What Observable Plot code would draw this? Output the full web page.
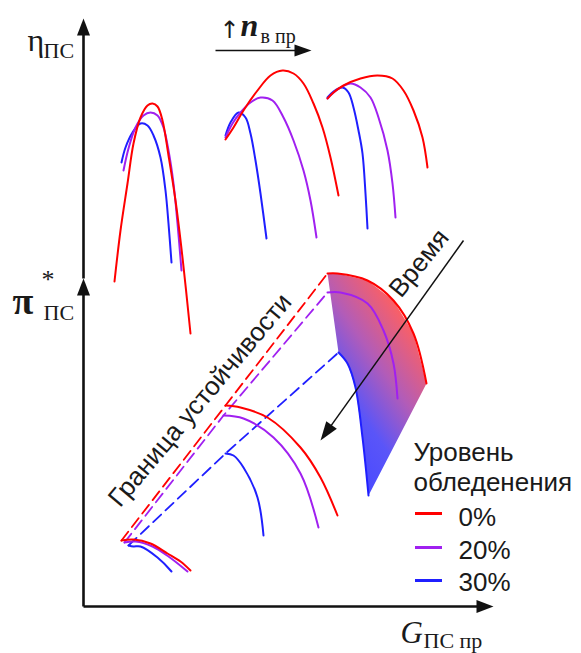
<!DOCTYPE html>
<html><head><meta charset="utf-8">
<script src="https://cdn.jsdelivr.net/npm/d3@7"></script>
<script src="https://cdn.jsdelivr.net/npm/@observablehq/plot@0.6"></script>
<style>html,body{margin:0;padding:0;background:#fff;}svg{display:block}</style>
</head><body><div id="chart"></div>
<script>
// Levels of icing (legend)
const levels = ["0%", "20%", "30%"];
const legendTitle = ["Уровень", "обледенения"];

// Efficiency characteristics η (three corrected speeds per level), schematic units
const eff0 = [
  [[31,325],[37,376],[44,423],[50,463],[57,489],[64,501],[69,503],[74,500],[79,486],[85,451],[92,406],[99,349],[107,273]],
  [[142,467],[150,479],[160,496],[174,516],[187,531],[199,536],[210,533],[220,523],[230,503],[239,479],[247,449],[255,411]],
  [[244,508],[250,514],[260,521],[277,528],[294,531],[309,528],[320,516],[330,496],[339,469],[344,439]]
];
const eff20 = [
  [[40,436],[45,458],[52,479],[60,491],[67,494],[74,491],[80,479],[85,456],[90,423],[94,383],[98,336]],
  [[142,469],[149,483],[157,494],[167,504],[177,509],[189,506],[200,489],[210,466],[220,436],[227,406],[233,369]],
  [[244,508],[254,517],[267,523],[277,519],[287,509],[295,489],[304,456],[309,423],[312,389]]
];
const eff30 = [
  [[38,444],[42,459],[49,474],[57,483],[64,481],[70,471],[77,449],[82,416],[85,383],[88,344]],
  [[142,471],[147,484],[155,494],[162,489],[167,473],[172,446],[177,413],[183,368]],
  [[244,509],[250,515],[259,519],[265,514],[270,499],[275,476],[279,453],[282,413],[284,378]]
];

// Pressure ratio characteristics π*
const press0 = [
  [[38,66],[50,67],[67,63],[84,53],[97,45],[107,36]],
  [[142,201],[157,199],[184,189],[217,159],[237,129],[254,91]],
  [[244,333],[254,333],[284,326],[310,306],[330,273],[343,223]]
];
const press20 = [
  [[41,64],[52,65],[69,60],[85,50],[104,35]],
  [[140,191],[160,188],[190,169],[217,133],[235,79]],
  [[244,314],[257,314],[284,303],[300,276],[310,243],[314,208]]
];
const press30 = [
  [[45,61],[50,60],[57,60],[74,49],[88,35]],
  [[142,153],[150,151],[160,139],[174,109],[180,71]],
  [[255,254],[264,243],[272,219],[279,169],[285,111]]
];

// Arrows: axes, speed arrow, time arrow
const axes = [
  {x1:0, y1:0, x2:0, y2:328},
  {x1:0, y1:328, x2:0, y2:588},
  {x1:0, y1:0, x2:410, y2:0}
];
const thinArrows = [
  {x1:132, y1:556, x2:228, y2:556, w:1.6, len:17, hw:6},
  {x1:380, y1:366, x2:237, y2:166, w:1.5, len:19, hw:6.5}
];

const colors = ["#ff0000", "#a020f0", "#1f1fff"];

// ---------- build tables ----------
const effSets = [eff0, eff20, eff30];
const pressSets = [press0, press20, press30];
function toRows(sets) {
  const out = [];
  for (let li = sets.length - 1; li >= 0; li--) {
    sets[li].forEach((pts, si) => pts.forEach(([x, y]) => out.push({level: levels[li], key: li + "-" + si, x, y})));
  }
  return out;
}
const effRows = toRows(effSets);
const pressRows = toRows(pressSets);
const surgeRows = [];
for (let li = pressSets.length - 1; li >= 0; li--) {
  pressSets[li].forEach(pts => surgeRows.push({level: levels[li], x: pts[0][0], y: pts[0][1]}));
}
// gradient region: top 0% curve + reversed top 30% curve
const regionRows = [...press0[2], ...press30[2].slice().reverse()].map(([x, y]) => ({x, y}));
const gStart = press30[2][press30[2].length - 1];
const ang = 35 * Math.PI / 180;
const gEnd = [gStart[0] + 135 * Math.cos(ang), gStart[1] + 135 * Math.sin(ang)];

function headPts(a, len, hw, id) {
  const dx = a.x2 - a.x1, dy = a.y2 - a.y1, L = Math.hypot(dx, dy);
  const ux = dx / L, uy = dy / L, px = -uy, py = ux;
  const bx = a.x2 - ux * len, by = a.y2 - uy * len;
  return [[a.x2, a.y2], [bx + px * hw, by + py * hw], [bx - px * hw, by - py * hw]].map(([x, y]) => ({id, x, y}));
}
function shaft(a, len) {
  const dx = a.x2 - a.x1, dy = a.y2 - a.y1, L = Math.hypot(dx, dy);
  return {...a, x2: a.x2 - dx / L * len * 0.7, y2: a.y2 - dy / L * len * 0.7};
}
const heads = [
  ...axes.flatMap((a, i) => headPts(a, 17, 6.5, "a" + i)),
  ...thinArrows.flatMap((a, i) => headPts(a, a.len, a.hw, "t" + i))
];

const gradDefs = (index, scales) => {
  const d = d3.create("svg:defs");
  const lg = d.append("linearGradient").attr("id", "iceGrad").attr("gradientUnits", "userSpaceOnUse")
    .attr("x1", scales.x(gStart[0])).attr("y1", scales.y(gStart[1]))
    .attr("x2", scales.x(gEnd[0])).attr("y2", scales.y(gEnd[1]));
  lg.append("stop").attr("offset", 0).attr("stop-color", "#4a4aff");
  lg.append("stop").attr("offset", 0.3).attr("stop-color", "#5a55f8");
  lg.append("stop").attr("offset", 0.62).attr("stop-color", "#b25cb8");
  lg.append("stop").attr("offset", 1).attr("stop-color", "#ff6060");
  return d.node();
};

const serif = "Liberation Serif, Times New Roman, serif";
const sans = "Liberation Sans, Arial, sans-serif";
const ink = "#1a1a1a";
const T = (x, y, text, opts) => Plot.text([{x, y, text}], {x: "x", y: "y", text: "text", textAnchor: "start", lineAnchor: "middle", fill: ink, ...opts});

const chart = Plot.plot({
  width: 581, height: 653,
  margin: 0,
  x: {domain: [-83, 498], axis: null},
  y: {domain: [-47, 606], axis: null},
  color: {domain: levels, range: colors},
  style: {background: "white", overflow: "visible"},
  marks: [
    gradDefs,
    Plot.line(regionRows, {x: "x", y: "y", fill: "url(#iceGrad)", stroke: "none"}),
    Plot.line(surgeRows, {x: "x", y: "y", z: "level", stroke: "level", strokeWidth: 1.8, strokeDasharray: "11,6", curve: "linear"}),
    Plot.line(effRows, {x: "x", y: "y", z: "key", stroke: "level", strokeWidth: 2, curve: "catmull-rom"}),
    Plot.line(pressRows, {x: "x", y: "y", z: "key", stroke: "level", strokeWidth: 2, curve: "catmull-rom"}),
    Plot.link(axes.map(a => shaft(a, 17)), {x1: "x1", y1: "y1", x2: "x2", y2: "y2", stroke: "#111", strokeWidth: 2.6}),
    Plot.link(thinArrows.map(a => shaft(a, a.len)), {x1: "x1", y1: "y1", x2: "x2", y2: "y2", stroke: "#111", strokeWidth: "w"}),
    Plot.line(heads, {x: "x", y: "y", z: "id", fill: "#111", stroke: "none", curve: "linear"}),
    // legend
    Plot.ruleY(levels, {y: (d, i) => [93, 59, 26][i], x1: () => 332, x2: () => 359, stroke: d => d, strokeWidth: 3}),
    Plot.text(levels, {x: () => 375, y: (d, i) => [89, 56, 24][i], text: d => d, textAnchor: "start", lineAnchor: "middle", fontSize: 26, fontFamily: sans, fill: ink}),
    Plot.text(legendTitle, {x: () => 330, y: (d, i) => [154, 124][i], text: d => d, textAnchor: "start", lineAnchor: "middle", fontSize: 26, fontFamily: sans, fill: ink}),
    // rotated annotations
    T(123, 201, "Граница устойчивости", {fontSize: 26, fontFamily: sans, rotate: -50, textAnchor: "middle", lineAnchor: "bottom"}),
    T(342, 338, "Время", {fontSize: 26, fontFamily: sans, rotate: -51, textAnchor: "middle", lineAnchor: "bottom"}),
    // axis labels
    T(-56, 566, "η", {fontSize: 32, fontFamily: serif}),
    T(-40, 556, "ПС", {fontSize: 22, fontFamily: serif}),
    T(-71, 305, "π", {fontSize: 38, fontFamily: serif, fontWeight: "bold"}),
    T(-42, 327, "*", {fontSize: 26, fontFamily: serif}),
    T(-40, 294, "ПС", {fontSize: 22, fontFamily: serif}),
    T(317, -27, "G", {fontSize: 31, fontFamily: serif, fontStyle: "italic"}),
    T(340, -34, "ПС пр", {fontSize: 22, fontFamily: serif}),
    T(146, 576, "↑", {fontSize: 24, fontFamily: "DejaVu Sans, sans-serif", textAnchor: "middle"}),
    T(157, 581, "n", {fontSize: 32, fontFamily: serif, fontStyle: "italic", fontWeight: "bold"}),
    T(177, 570, "в пр", {fontSize: 20, fontFamily: serif})
  ]
});
document.getElementById("chart").appendChild(chart);
</script>
</body></html>
